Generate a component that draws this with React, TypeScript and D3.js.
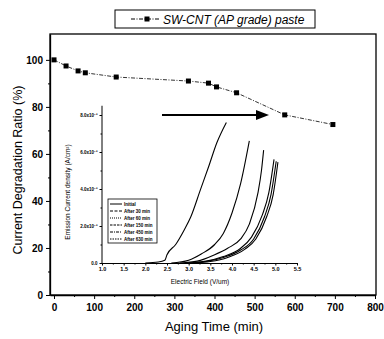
import { useEffect, useRef } from "react";
import * as d3 from "d3";

// main series: aging time (min) vs current degradation ratio (%)
const agingTime = [0, 30, 60, 78, 155, 335, 385, 405, 455, 575, 695];
const degradation = [100, 97.4, 95.3, 94.5, 92.7, 91, 90.1, 88.5, 86, 76.6, 72.5];
const xTicks = [0, 100, 200, 300, 400, 500, 600, 700, 800];
const yTicks = [0, 20, 40, 60, 80, 100];

// inset: emission current density (x10^-3 A/cm2) vs electric field (V/um)
const insetNames = ["Initial", "After 30 min", "After 60 min", "After 150 min", "After 450 min", "After 630 min"];
const fieldInitial = [2.0, 2.3, 2.45, 2.5, 2.7, 2.9, 3.05, 3.27, 3.46, 3.65, 3.87];
const jInitial = [0, 0.05, 0.15, 0.45, 1.0, 1.8, 2.5, 3.95, 5.2, 6.5, 7.6];
const field30 = [2.6, 3.0, 3.3, 3.6, 3.8, 4.0, 4.2, 4.4];
const j30 = [0, 0.15, 0.5, 1.0, 1.6, 2.7, 4.3, 6.6];
const field60 = [2.8, 3.2, 3.6, 3.9, 4.2, 4.4, 4.6, 4.68, 4.73];
const j60 = [0, 0.1, 0.45, 0.8, 1.3, 2.1, 3.8, 5.0, 6.1];
const field150 = [3.0, 3.4, 3.8, 4.2, 4.45, 4.7, 4.85, 4.97];
const j150 = [0, 0.1, 0.35, 0.8, 1.4, 2.6, 3.8, 5.6];
const field450 = [3.0, 3.4, 3.8, 4.2, 4.5, 4.75, 4.9, 5.02];
const j450 = [0, 0.08, 0.3, 0.7, 1.3, 2.5, 3.7, 5.5];
const field630 = [3.1, 3.5, 3.9, 4.3, 4.55, 4.8, 4.95, 5.06];
const j630 = [0, 0.08, 0.3, 0.75, 1.3, 2.5, 3.7, 5.45];
const insetXTicks = [1.0, 1.5, 2.0, 2.5, 3.0, 3.5, 4.0, 4.5, 5.0, 5.5];
const insetYTicks = [0, 2, 4, 6, 8];

const font = "'Liberation Sans', Arial, sans-serif";

const App = () => {
  const ref = useRef<SVGSVGElement>(null);

  useEffect(() => {
    const width = 384;
    const height = 339;
    const svg = d3.select(ref.current).attr("width", width).attr("height", height);
    svg.selectAll("*").remove();

    // main scales
    const x = d3.scaleLinear().domain([-10, 800]).range([50, 375]);
    const y = d3.scaleLinear().domain([0, 111]).range([295, 34]);

    // frame
    svg
      .append("rect")
      .attr("x", 50)
      .attr("y", 34)
      .attr("width", 326)
      .attr("height", 261)
      .attr("fill", "none")
      .attr("stroke", "#000")
      .attr("stroke-width", 1.3);

    // x axis
    const gx = svg
      .append("g")
      .attr("transform", "translate(0,295)")
      .call(d3.axisBottom(x).tickValues(xTicks).tickSize(4).tickSizeOuter(0).tickPadding(5));
    gx.select(".domain").attr("stroke-width", 1.3);
    gx.selectAll("text").attr("font-family", font).attr("font-size", 10).attr("font-weight", "bold");
    svg
      .append("g")
      .attr("transform", "translate(0,295)")
      .call(d3.axisBottom(x).tickValues(d3.range(50, 800, 100)).tickSize(2).tickFormat(() => ""))
      .select(".domain")
      .remove();

    // y axis
    const gy = svg
      .append("g")
      .attr("transform", "translate(50,0)")
      .call(d3.axisLeft(y).tickValues(yTicks).tickSize(4).tickSizeOuter(0).tickPadding(3));
    gy.select(".domain").attr("stroke-width", 1.3);
    gy.selectAll("text").attr("font-family", font).attr("font-size", 10).attr("font-weight", "bold");
    svg
      .append("g")
      .attr("transform", "translate(50,0)")
      .call(d3.axisLeft(y).tickValues(d3.range(10, 110, 20)).tickSize(2).tickFormat(() => ""))
      .select(".domain")
      .remove();

    // axis titles
    svg
      .append("text")
      .attr("x", 214)
      .attr("y", 331)
      .attr("text-anchor", "middle")
      .attr("font-family", font)
      .attr("font-size", 13)
      .text("Aging Time (min)");
    svg
      .append("text")
      .attr("transform", "translate(22,170) rotate(-90)")
      .attr("text-anchor", "middle")
      .attr("font-family", font)
      .attr("font-size", 12.5)
      .text("Current Degradation Ratio (%)");

    // legend
    svg
      .append("rect")
      .attr("x", 115)
      .attr("y", 10)
      .attr("width", 200)
      .attr("height", 18)
      .attr("fill", "#fff")
      .attr("stroke", "#000")
      .attr("stroke-width", 1);
    svg
      .append("line")
      .attr("x1", 131)
      .attr("x2", 159)
      .attr("y1", 19)
      .attr("y2", 19)
      .attr("stroke", "#000")
      .attr("stroke-width", 1)
      .attr("stroke-dasharray", "4,1.5,1,1.5");
    svg
      .append("rect")
      .attr("x", 144.5)
      .attr("y", 16.5)
      .attr("width", 5)
      .attr("height", 5)
      .attr("fill", "#000");
    svg
      .append("text")
      .attr("x", 163)
      .attr("y", 23.5)
      .attr("font-family", font)
      .attr("font-size", 12)
      .attr("font-style", "italic")
      .text("SW-CNT (AP grade) paste");

    // main series
    const line = d3
      .line<number>()
      .x((_, i) => x(agingTime[i]))
      .y((d) => y(d));
    svg
      .append("path")
      .attr("d", line(degradation))
      .attr("fill", "none")
      .attr("stroke", "#000")
      .attr("stroke-width", 0.8)
      .attr("stroke-dasharray", "4,1.5,1,1.5");
    svg
      .append("g")
      .selectAll("rect")
      .data(degradation)
      .enter()
      .append("rect")
      .attr("x", (_, i) => x(agingTime[i]) - 2.5)
      .attr("y", (d) => y(d) - 2.5)
      .attr("width", 5)
      .attr("height", 5)
      .attr("fill", "#000");

    // arrow
    svg
      .append("line")
      .attr("x1", 162)
      .attr("x2", 258)
      .attr("y1", 115)
      .attr("y2", 115)
      .attr("stroke", "#000")
      .attr("stroke-width", 1.8);
    svg
      .append("path")
      .attr("d", "M256,110 L269,115 L256,120 Z")
      .attr("fill", "#000");

    // inset
    const xi = d3.scaleLinear().domain([1.0, 5.5]).range([102, 297]);
    const yi = d3.scaleLinear().domain([0, 8]).range([263, 115]);
    const inset = svg.append("g");

    const gxi = inset
      .append("g")
      .attr("transform", "translate(0,263)")
      .call(
        d3
          .axisBottom(xi)
          .tickValues(insetXTicks)
          .tickSize(2.5)
          .tickSizeOuter(0)
          .tickPadding(2)
          .tickFormat(d3.format(".1f"))
      );
    gxi.selectAll("text").attr("font-family", font).attr("font-size", 5.5).attr("font-weight", "bold");
    inset
      .append("g")
      .attr("transform", "translate(0,263)")
      .call(d3.axisBottom(xi).tickValues(d3.range(1.25, 5.5, 0.5)).tickSize(1.5).tickFormat(() => ""))
      .select(".domain")
      .remove();

    const gyi = inset
      .append("g")
      .attr("transform", "translate(102,0)")
      .call(
        d3
          .axisLeft(yi)
          .tickValues(insetYTicks)
          .tickSize(2.5)
          .tickSizeOuter(0)
          .tickPadding(2)
          .tickFormat((d) => (d === 0 ? "0.0" : `${d3.format(".1f")(d as number)}x10⁻³`))
      );
    gyi.select(".domain").attr("d", `M0,${yi(0)}V${yi(8.5)}`);
    gyi.selectAll("text").attr("font-family", font).attr("font-size", 4.5).attr("font-weight", "bold");
    inset
      .append("g")
      .attr("transform", "translate(102,0)")
      .call(d3.axisLeft(yi).tickValues(d3.range(1, 9, 2)).tickSize(1.5).tickFormat(() => ""))
      .select(".domain")
      .remove();

    inset
      .append("text")
      .attr("x", 200)
      .attr("y", 284)
      .attr("text-anchor", "middle")
      .attr("font-family", font)
      .attr("font-size", 6.5)
      .text("Electric Field (V/um)");
    inset
      .append("text")
      .attr("transform", "translate(70,192) rotate(-90)")
      .attr("text-anchor", "middle")
      .attr("font-family", font)
      .attr("font-size", 6.5)
      .text("Emission Current density (A/cm²)");

    const curves = [
      [fieldInitial, jInitial],
      [field30, j30],
      [field60, j60],
      [field150, j150],
      [field450, j450],
      [field630, j630],
    ];
    const dashes = ["none", "3,1.5", "1,1", "2.5,1", "3,1,1,1", "1.5,1"];
    const curve = d3
      .line<[number, number]>()
      .x((d) => xi(d[0]))
      .y((d) => yi(d[1]))
      .curve(d3.curveMonotoneX);
    curves.forEach(([fx, jy], k) => {
      const pts = fx.map((v, i) => [v, jy[i]] as [number, number]);
      inset
        .append("path")
        .attr("d", curve(pts))
        .attr("fill", "none")
        .attr("stroke", "#000")
        .attr("stroke-width", 1.1)
        .attr("stroke-dasharray", k < 3 ? "none" : "none");
    });

    // inset legend
    inset
      .append("rect")
      .attr("x", 108)
      .attr("y", 199)
      .attr("width", 49)
      .attr("height", 44)
      .attr("fill", "#fff")
      .attr("stroke", "#000")
      .attr("stroke-width", 0.8);
    insetNames.forEach((name, k) => {
      const ry = 204 + k * 7;
      inset
        .append("line")
        .attr("x1", 110)
        .attr("x2", 122)
        .attr("y1", ry)
        .attr("y2", ry)
        .attr("stroke", "#000")
        .attr("stroke-width", 1)
        .attr("stroke-dasharray", dashes[k]);
      inset
        .append("text")
        .attr("x", 124)
        .attr("y", ry + 1.6)
        .attr("font-family", font)
        .attr("font-size", 4.5)
        .attr("font-weight", "bold")
        .text(name);
    });
  }, []);

  return (
    <div style={{ position: "absolute", left: 0, top: 0 }}>
      <svg ref={ref}></svg>
    </div>
  );
};

export default App;
